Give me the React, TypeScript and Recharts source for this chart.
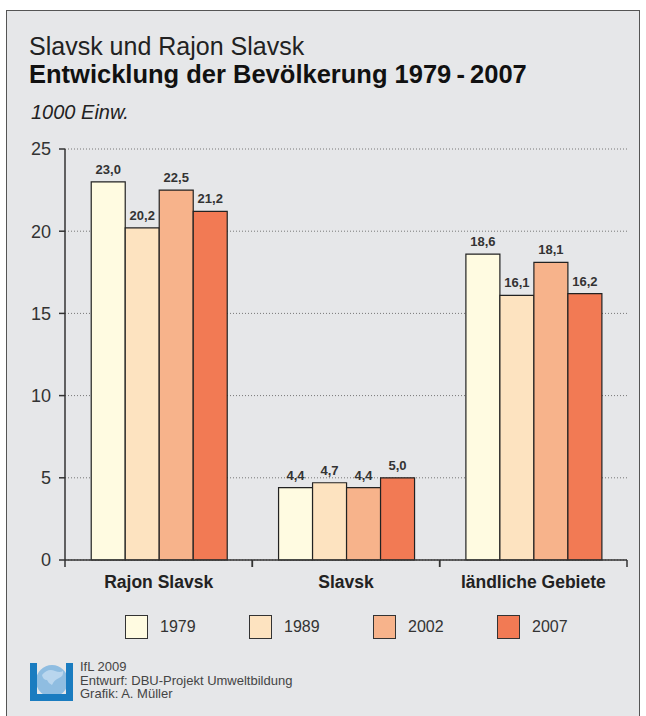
import { BarChart, Bar, XAxis, YAxis, CartesianGrid, LabelList } from 'recharts';

const regions = ['Rajon Slavsk', 'Slavsk', 'ländliche Gebiete'];
const v1979 = [23.0, 4.4, 18.6];
const v1989 = [20.2, 4.7, 16.1];
const v2002 = [22.5, 4.4, 18.1];
const v2007 = [21.2, 5.0, 16.2];
const yTicks = [0, 5, 10, 15, 20, 25];

const series = [
  { key: 'y1979', name: '1979', values: v1979, color: '#fffbe1' },
  { key: 'y1989', name: '1989', values: v1989, color: '#fde3c0' },
  { key: 'y2002', name: '2002', values: v2002, color: '#f7b38b' },
  { key: 'y2007', name: '2007', values: v2007, color: '#f27a54' },
];

const data = regions.map((r, i) => {
  const row: any = { region: r };
  series.forEach((s) => (row[s.key] = s.values[i]));
  return row;
});

const font = '"Liberation Sans", Arial, Helvetica, sans-serif';
const fmt = (v: any) => Number(v).toFixed(1).replace('.', ',');

function CatTick(props: any) {
  const { x, y, payload } = props;
  const half =
    payload && payload.offset
      ? payload.offset
      : props.width && props.visibleTicksCount
      ? props.width / props.visibleTicksCount / 2
      : 93.5;
  return (
    <g>
      <line x1={x - half} x2={x - half} y1={y} y2={y + 7} stroke="#333" strokeWidth={1.5} />
      <line x1={x + half} x2={x + half} y1={y} y2={y + 7} stroke="#333" strokeWidth={1.5} />
      <text x={x} y={y + 28} textAnchor="middle" fontSize={17.5} fontWeight="bold" fill="#222" fontFamily={font}>
        {payload.value}
      </text>
    </g>
  );
}

function Logo() {
  return (
    <svg width={44} height={38} viewBox="0 0 44 38" style={{ position: 'absolute', left: 30, top: 663 }}>
      <circle cx={22} cy={18} r={16} fill="#8fbde1" />
      <path d="M12 12 q6 -7 13 -4 q5 2 8 0 q1 5 -4 7 q-5 2 -7 7 q-4 -2 -5 -5 q-4 0 -5 -5z" fill="#b9d6ee" />
      <rect x={0} y={0} width={7} height={38} fill="#1a7cc0" />
      <rect x={36} y={0} width={7} height={38} fill="#1a7cc0" />
      <rect x={7} y={31} width={29} height={7} fill="#1a7cc0" />
    </svg>
  );
}

export default function App() {
  return (
    <div style={{ position: 'fixed', left: 0, top: 0, width: 646, height: 716, background: '#fff', fontFamily: font }}>
      <div
        style={{
          position: 'absolute',
          left: 6,
          top: 10,
          width: 632,
          height: 705,
          border: '1.5px solid #555',
          background: '#e6e7e9',
        }}
      />
      <div style={{ position: 'absolute', left: 29, top: 32, fontSize: 25, color: '#222', lineHeight: '28px' }}>
        Slavsk und Rajon Slavsk
      </div>
      <div style={{ position: 'absolute', left: 29, top: 59, fontSize: 25.5, fontWeight: 'bold', color: '#111', lineHeight: '30px' }}>
        Entwicklung der Bevölkerung 1979{'\u2009'}-{'\u2009'}2007
      </div>
      <div style={{ position: 'absolute', left: 31, top: 100, fontSize: 20, fontStyle: 'italic', color: '#222', lineHeight: '24px' }}>
        1000 Einw.
      </div>
      <div style={{ position: 'absolute', left: 0, top: 0 }}>
        <BarChart
          width={646}
          height={716}
          data={data}
          margin={{ top: 149, right: 19, left: 25, bottom: 116 }}
          barCategoryGap="14%"
          barGap={0}
        >
          <CartesianGrid vertical={false} stroke="#777" strokeDasharray="1 2" />
          <XAxis
            dataKey="region"
            height={40}
            tickLine={false}
            tickSize={0}
            tickMargin={0}
            axisLine={{ stroke: '#333', strokeWidth: 1.5 }}
            tick={<CatTick />}
            interval={0}
          />
          <YAxis
            width={40}
            domain={[0, 25]}
            ticks={yTicks}
            tickSize={6}
            tickMargin={8}
            axisLine={{ stroke: '#333', strokeWidth: 1.5 }}
            tickLine={{ stroke: '#333', strokeWidth: 1.5 }}
            tick={{ fontSize: 18, fill: '#333', fontFamily: font }}
          />
          {series.map((s) => (
            <Bar key={s.key} dataKey={s.key} name={s.name} fill={s.color} stroke="#222" strokeWidth={1.2} isAnimationActive={false}>
              <LabelList
                dataKey={s.key}
                position="top"
                offset={8}
                formatter={fmt}
                style={{ fontSize: 13, fontWeight: 'bold', fill: '#333', fontFamily: font }}
              />
            </Bar>
          ))}
        </BarChart>
      </div>
      {series.map((s, i) => (
        <div key={s.key} style={{ position: 'absolute', left: 125 + i * 124, top: 615, display: 'flex', alignItems: 'center' }}>
          <div style={{ width: 21, height: 22, background: s.color, border: '1.2px solid #333' }} />
          <span style={{ marginLeft: 12, fontSize: 16, color: '#333' }}>{s.name}</span>
        </div>
      ))}
      <Logo />
      <div style={{ position: 'absolute', left: 80, top: 660, fontSize: 13, color: '#444', lineHeight: '13.5px' }}>
        <div>IfL 2009</div>
        <div>Entwurf: DBU-Projekt Umweltbildung</div>
        <div>Grafik: A. Müller</div>
      </div>
    </div>
  );
}
